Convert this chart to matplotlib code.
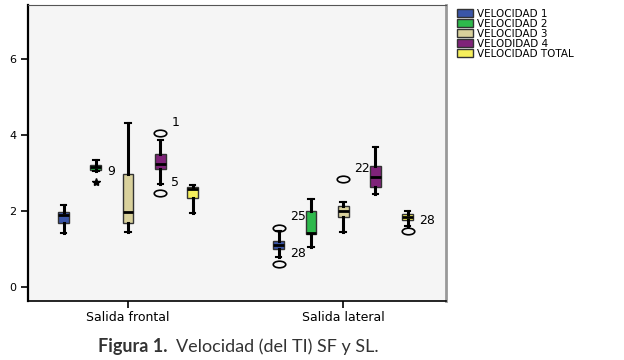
import matplotlib.pyplot as plt
from matplotlib.path import Path
from matplotlib.transforms import Affine2D
from matplotlib.patches import Patch

# grupos y series
groups = ['Salida frontal', 'Salida lateral']
series = ['VELOCIDAD 1', 'VELOCIDAD 2', 'VELOCIDAD 3', 'VELODIDAD 4', 'VELOCIDAD TOTAL']
colors = ['#3A55A8', '#2EB94C', '#D9D19C', '#7F2379', '#F6EF5C']

# estadisticos: [frontal, lateral] por serie
whislo = [[1.42, 0.77], [3.03, 1.05], [1.43, 1.43], [2.70, 2.44], [1.93, 1.60]]
q1 = [[1.68, 0.98], [3.08, 1.38], [1.68, 1.84], [3.09, 2.61], [2.32, 1.75]]
med = [[1.88, 1.10], [3.14, 1.40], [1.95, 2.00], [3.23, 2.89], [2.57, 1.84]]
q3 = [[1.95, 1.19], [3.20, 1.99], [2.96, 2.11], [3.48, 3.18], [2.63, 1.92]]
whishi = [[2.15, 1.45], [3.32, 2.30], [4.30, 2.22], [3.86, 3.68], [2.66, 2.00]]

# valores atipicos: (serie, grupo, valor, etiqueta, tipo)
outliers = [
    (1, 0, 2.75, '9', 'star'),
    (3, 0, 4.05, '1', 'circle'),
    (3, 0, 2.47, '5', 'circle'),
    (0, 1, 1.55, '25', 'circle'),
    (0, 1, 0.59, '28', 'circle'),
    (2, 1, 2.83, '22', 'circle'),
    (4, 1, 1.46, '28', 'circle'),
]

offsets = [-0.3, -0.15, 0.0, 0.15, 0.3]
width = 0.05

fig = plt.figure(figsize=(6.24, 3.6), dpi=100)
ax = fig.add_axes([0.045, 0.164, 0.67, 0.822])
ax.set_facecolor('#F5F5F5')

for i in range(len(series)):
    stats = []
    pos = []
    for g in range(len(groups)):
        stats.append(dict(whislo=whislo[i][g], q1=q1[i][g], med=med[i][g],
                          q3=q3[i][g], whishi=whishi[i][g], fliers=[]))
        pos.append(g + offsets[i])
    ax.bxp(stats, positions=pos, widths=width, patch_artist=True,
           showfliers=False, manage_ticks=False,
           boxprops=dict(facecolor=colors[i], edgecolor='#333333', linewidth=1.0),
           medianprops=dict(color='black', linewidth=2.0),
           whiskerprops=dict(color='black', linewidth=2.2),
           capprops=dict(color='black', linewidth=1.5),
           capwidths=width * 0.5, zorder=3)

ellipse = Path.unit_circle().transformed(Affine2D().scale(1.9, 1.0))
for i, g, val, lab, kind in outliers:
    x = g + offsets[i]
    if kind == 'star':
        ax.plot(x, val, marker='*', color='black', markersize=6, zorder=4)
    else:
        ax.plot(x, val, marker=ellipse, mfc='none', mec='black', mew=1.2,
                markersize=9, zorder=4)
    ax.annotate(lab, (x, val), xytext=(8, 3), textcoords='offset points',
                fontsize=9, family='DejaVu Sans', va='bottom', ha='left')

ax.set_xlim(-0.465, 1.479)
ax.set_ylim(-0.38, 7.41)
ax.set_yticks([0, 2, 4, 6])
ax.set_xticks(range(len(groups)))
ax.set_xticklabels(groups)
ax.tick_params(axis='both', direction='out', width=1.2, length=5)
ax.tick_params(axis='x', labelsize=9, pad=2)
ax.tick_params(axis='y', labelsize=8)
for lab in ax.get_xticklabels() + ax.get_yticklabels():
    lab.set_family('DejaVu Sans')

ax.spines['left'].set_linewidth(1.6)
ax.spines['bottom'].set_linewidth(1.2)
ax.spines['top'].set_color('#555555')
ax.spines['right'].set_color('#999999')
ax.spines['right'].set_linewidth(2.0)

handles = [Patch(facecolor=c, edgecolor='#333333') for c in colors]
fig.legend(handles, series, loc='upper left', bbox_to_anchor=(0.72, 0.995),
           frameon=False, handlelength=1.6, handleheight=0.8,
           labelspacing=0.0, borderpad=0.2, handletextpad=0.4,
           prop={'family': 'DejaVu Sans', 'size': 7.5})

fig.text(0.157, 0.022, 'Figura 1.', fontsize=13, fontweight='bold',
         family='Lato', color='#333333', va='baseline')
fig.text(0.282, 0.022, 'Velocidad (del TI) SF y SL.', fontsize=13,
         family='Lato', color='#333333', va='baseline')

fig.savefig('out.png', dpi=100)
